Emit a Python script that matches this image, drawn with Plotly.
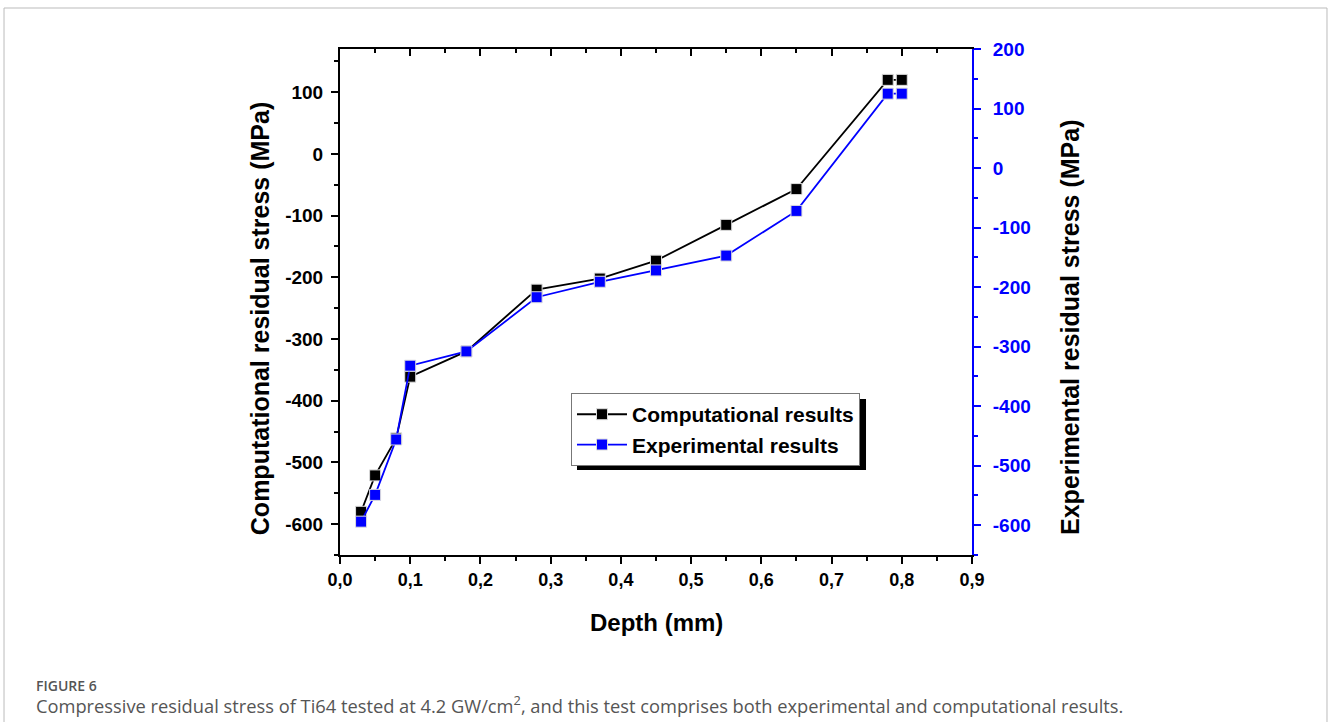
import plotly.graph_objects as go

depth = [0.03, 0.05, 0.08, 0.10, 0.18, 0.28, 0.37, 0.45, 0.55, 0.65, 0.78, 0.80]
computational = [-580, -521, -461, -361, -320, -220, -202, -173, -115, -57, 120, 120]
experimental = [-594, -549, -456, -332, -308, -217, -191, -172, -147, -72, 125, 125]

x_tickvals = [0.0, 0.1, 0.2, 0.3, 0.4, 0.5, 0.6, 0.7, 0.8, 0.9]
x_ticktext = ["0,0", "0,1", "0,2", "0,3", "0,4", "0,5", "0,6", "0,7", "0,8", "0,9"]
y1_tickvals = [100, 0, -100, -200, -300, -400, -500, -600]
y1_ticktext = ["100", "0", "-100", "-200", "-300", "-400", "-500", "-600"]
y2_tickvals = [200, 100, 0, -100, -200, -300, -400, -500, -600]
y2_ticktext = ["200", "100", "0", "-100", "-200", "-300", "-400", "-500", "-600"]

BLUE = "#0000ff"
FONT = "Arial, Liberation Sans, sans-serif"

fig = go.Figure()
fig.add_trace(go.Scatter(
    x=depth, y=computational, mode="lines+markers", name="Computational results",
    line=dict(color="black", width=1.8),
    marker=dict(symbol="square", size=11, color="black", line=dict(color="#dddddd", width=1)),
))
fig.add_trace(go.Scatter(
    x=depth, y=experimental, mode="lines+markers", name="Experimental results",
    yaxis="y2",
    line=dict(color=BLUE, width=1.8),
    marker=dict(symbol="square", size=11, color=BLUE, line=dict(color="#dddddd", width=1)),
))
# helper trace so the top (mirror) axis is drawn
fig.add_trace(go.Scatter(x=[None], y=[None], xaxis="x2", showlegend=False, hoverinfo="skip"))

fig.update_layout(
    width=1328, height=722,
    margin=dict(l=340, r=356, t=49, b=167),
    paper_bgcolor="white", plot_bgcolor="white",
    font=dict(family=FONT),
    xaxis=dict(
        range=[0, 0.9], tickvals=x_tickvals, ticktext=x_ticktext,
        showgrid=False, zeroline=False, showline=True, linecolor="black", linewidth=2,
        ticks="outside", ticklen=7, tickwidth=2, tickcolor="black",
        minor=dict(ticks="outside", ticklen=4, tickwidth=2, tickcolor="black", dtick=0.05, tick0=0),
        tickfont=dict(family=FONT, size=18, color="black", weight="bold"),
    ),
    xaxis2=dict(
        range=[0, 0.9], overlaying="x", side="top", anchor="y",
        tickvals=x_tickvals, showticklabels=False,
        showgrid=False, zeroline=False, showline=True, linecolor="black", linewidth=2,
        ticks="inside", ticklen=7, tickwidth=2, tickcolor="black",
        minor=dict(ticks="inside", ticklen=4, tickwidth=2, tickcolor="black", dtick=0.05, tick0=0),
    ),
    yaxis=dict(
        range=[-650, 170], tickvals=y1_tickvals, ticktext=y1_ticktext,
        showgrid=False, zeroline=False, showline=True, linecolor="black", linewidth=2,
        ticks="outside", ticklen=7, tickwidth=2, tickcolor="black", ticklabelstandoff=4,
        minor=dict(ticks="outside", ticklen=4, tickwidth=2, tickcolor="black", dtick=50, tick0=0),
        tickfont=dict(family=FONT, size=19, color="black", weight="bold"),
    ),
    yaxis2=dict(
        range=[-650, 200], tickvals=y2_tickvals, ticktext=y2_ticktext,
        overlaying="y", side="right", anchor="x",
        showgrid=False, zeroline=False, showline=True, linecolor=BLUE, linewidth=2,
        ticks="outside", ticklen=7, tickwidth=2, tickcolor=BLUE, ticklabelstandoff=8,
        minor=dict(ticks="outside", ticklen=4, tickwidth=2, tickcolor=BLUE, dtick=50, tick0=0),
        tickfont=dict(family=FONT, size=19, color=BLUE, weight="bold"),
    ),
    legend=dict(
        x=0.3655, y=0.320, xanchor="left", yanchor="top",
        bgcolor="white", bordercolor="#777777", borderwidth=1,
        font=dict(family=FONT, size=21, color="black", weight="bold"),
        tracegroupgap=0, itemwidth=50,
    ),
    showlegend=True,
)

# legend drop shadow, page frame
fig.add_shape(type="rect", xref="paper", yref="paper", x0=0.375, x1=0.8323, y0=0.168, y1=0.3083,
              fillcolor="black", line=dict(width=0), layer="above")
fig.add_shape(type="rect", xref="paper", yref="paper", x0=-0.5316, x1=1.5617, y0=-0.45, y1=1.081,
              fillcolor="rgba(0,0,0,0)", line=dict(color="#bbbbbb", width=1), layer="below")

titlefont = dict(family=FONT, size=25, color="black", weight="bold")
fig.add_annotation(text="Computational residual stress (MPa)", xref="paper", yref="paper",
                   x=-0.1266, y=0.468, textangle=-90, showarrow=False, font=titlefont,
                   xanchor="center", yanchor="middle")
fig.add_annotation(text="Experimental residual stress (MPa)", xref="paper", yref="paper",
                   x=1.155, y=0.4506, textangle=-90, showarrow=False, font=titlefont,
                   xanchor="center", yanchor="middle")
fig.add_annotation(text="Depth (mm)", xref="paper", yref="paper",
                   x=0.5, y=-0.134, showarrow=False,
                   font=dict(family=FONT, size=24, color="black", weight="bold"),
                   xanchor="center", yanchor="middle")

capfont = "Open Sans, Noto Sans, sans-serif"
fig.add_annotation(text="FIGURE 6", xref="paper", yref="paper", x=-0.4842, y=-0.257,
                   showarrow=False, xanchor="left", yanchor="middle",
                   font=dict(family=capfont, size=14, color="#555555", weight=600))
fig.add_annotation(text="Compressive residual stress of Ti64 tested at 4.2 GW/cm<sup>2</sup>, and this test comprises both experimental and computational results.",
                   xref="paper", yref="paper", x=-0.4842, y=-0.2945,
                   showarrow=False, xanchor="left", yanchor="middle",
                   font=dict(family=capfont, size=18.3, color="#555555"))

fig.write_html("out.html")
